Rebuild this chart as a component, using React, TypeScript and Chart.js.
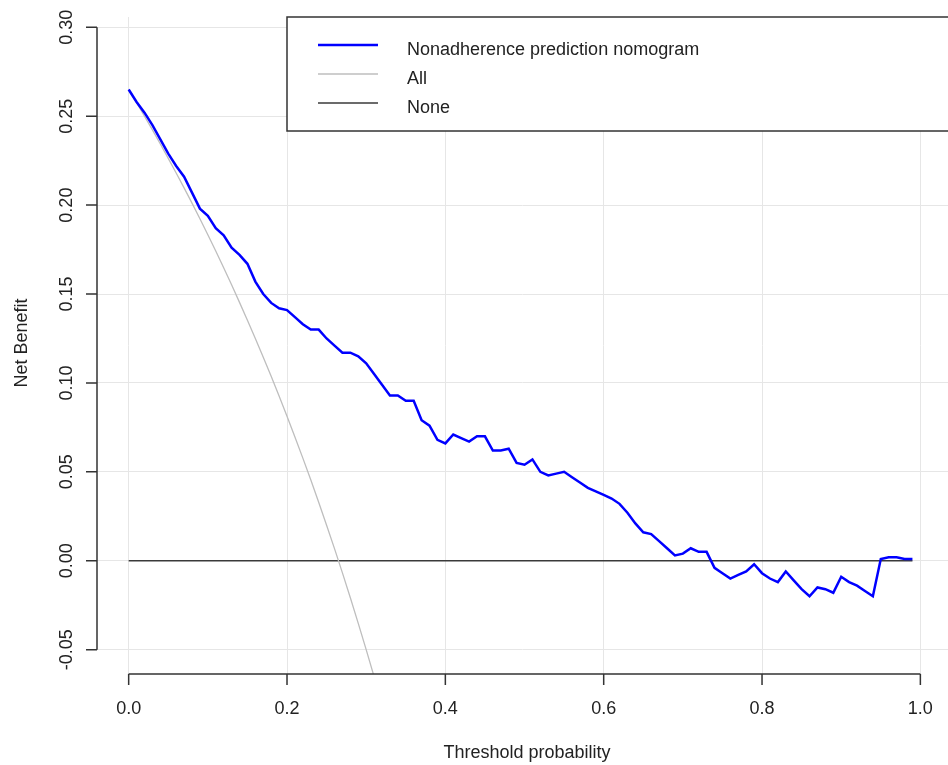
import React, { useEffect, useRef } from "react";
import { Chart, registerables } from "chart.js";

Chart.register(...registerables);

// ---- Data ----
const thresholds = [
  0.0, 0.01, 0.02, 0.03, 0.04, 0.05, 0.06, 0.07, 0.08, 0.09,
  0.1, 0.11, 0.12, 0.13, 0.14, 0.15, 0.16, 0.17, 0.18, 0.19,
  0.2, 0.21, 0.22, 0.23, 0.24, 0.25, 0.26, 0.27, 0.28, 0.29,
  0.3, 0.31, 0.32, 0.33, 0.34, 0.35, 0.36, 0.37, 0.38, 0.39,
  0.4, 0.41, 0.42, 0.43, 0.44, 0.45, 0.46, 0.47, 0.48, 0.49,
  0.5, 0.51, 0.52, 0.53, 0.54, 0.55, 0.56, 0.57, 0.58, 0.59,
  0.6, 0.61, 0.62, 0.63, 0.64, 0.65, 0.66, 0.67, 0.68, 0.69,
  0.7, 0.71, 0.72, 0.73, 0.74, 0.75, 0.76, 0.77, 0.78, 0.79,
  0.8, 0.81, 0.82, 0.83, 0.84, 0.85, 0.86, 0.87, 0.88, 0.89,
  0.9, 0.91, 0.92, 0.93, 0.94, 0.95, 0.96, 0.97, 0.98, 0.99,
];

const nomogramNB = [
  0.265, 0.258, 0.252, 0.245, 0.237, 0.229, 0.222, 0.216, 0.207, 0.198,
  0.194, 0.187, 0.183, 0.176, 0.172, 0.167, 0.157, 0.150, 0.145, 0.142,
  0.141, 0.137, 0.133, 0.130, 0.130, 0.125, 0.121, 0.117, 0.117, 0.115,
  0.111, 0.105, 0.099, 0.093, 0.093, 0.090, 0.090, 0.079, 0.076, 0.068,
  0.066, 0.071, 0.069, 0.067, 0.070, 0.070, 0.062, 0.062, 0.063, 0.055,
  0.054, 0.057, 0.050, 0.048, 0.049, 0.050, 0.047, 0.044, 0.041, 0.039,
  0.037, 0.035, 0.032, 0.027, 0.021, 0.016, 0.015, 0.011, 0.007, 0.003,
  0.004, 0.007, 0.005, 0.005, -0.004, -0.007, -0.010, -0.008, -0.006, -0.002,
  -0.007, -0.010, -0.012, -0.006, -0.011, -0.016, -0.020, -0.015, -0.016, -0.018,
  -0.009, -0.012, -0.014, -0.017, -0.020, 0.001, 0.002, 0.002, 0.001, 0.001,
];

const allThresholds = [
  0.0, 0.01, 0.02, 0.03, 0.04, 0.05, 0.06, 0.07, 0.08, 0.09,
  0.1, 0.11, 0.12, 0.13, 0.14, 0.15, 0.16, 0.17, 0.18, 0.19,
  0.2, 0.21, 0.22, 0.23, 0.24, 0.25, 0.26, 0.27, 0.28, 0.29,
  0.3, 0.31, 0.32,
];
const allNB = [
  0.265, 0.2576, 0.25, 0.2423, 0.2344, 0.2263, 0.2181, 0.2097, 0.2011, 0.1923,
  0.1833, 0.1742, 0.1648, 0.1552, 0.1453, 0.1353, 0.125, 0.1145, 0.1037, 0.0926,
  0.0813, 0.0696, 0.0577, 0.0455, 0.0329, 0.02, 0.0068, -0.0068, -0.0208, -0.0352,
  -0.05, -0.0652, -0.0809,
];

const noneThresholds = [0.0, 0.99];
const noneNB = [0, 0];

const xTicks = [0, 0.2, 0.4, 0.6, 0.8, 1.0];
const xTickLabels = ["0.0", "0.2", "0.4", "0.6", "0.8", "1.0"];
const yTicks = [-0.05, 0, 0.05, 0.1, 0.15, 0.2, 0.25, 0.3];
const yTickLabels = ["-0.05", "0.00", "0.05", "0.10", "0.15", "0.20", "0.25", "0.30"];

const seriesLabels = ["Nonadherence prediction nomogram", "All", "None"];
const seriesColors = ["#0000FF", "#BEBEBE", "#3A3A3A"];
const seriesWidths = [2.5, 1.3, 1.6];

const xTitle = "Threshold probability";
const yTitle = "Net Benefit";

const FONT = '18px "Liberation Sans", Arial, Helvetica, sans-serif';
const INK = "#222222";
const AXIS = "#333333";

const rStylePlugin = {
  id: "rStyle",
  afterDraw(chart: any) {
    const ctx = chart.ctx as CanvasRenderingContext2D;
    const xs = chart.scales.x;
    const ys = chart.scales.y;
    const area = chart.chartArea;
    ctx.save();

    // axes lines + ticks
    ctx.strokeStyle = AXIS;
    ctx.lineWidth = 1.5;
    ctx.beginPath();
    const xa = xs.getPixelForValue(xTicks[0]);
    const xb = xs.getPixelForValue(xTicks[xTicks.length - 1]);
    const yb = area.bottom;
    ctx.moveTo(xa, yb);
    ctx.lineTo(xb, yb);
    xTicks.forEach((v) => {
      const px = xs.getPixelForValue(v);
      ctx.moveTo(px, yb);
      ctx.lineTo(px, yb + 11);
    });
    const yl = area.left;
    const ya = ys.getPixelForValue(yTicks[0]);
    const yz = ys.getPixelForValue(yTicks[yTicks.length - 1]);
    ctx.moveTo(yl, ya);
    ctx.lineTo(yl, yz);
    yTicks.forEach((v) => {
      const py = ys.getPixelForValue(v);
      ctx.moveTo(yl, py);
      ctx.lineTo(yl - 11, py);
    });
    ctx.stroke();

    // tick labels
    ctx.font = FONT;
    ctx.fillStyle = INK;
    ctx.textAlign = "center";
    ctx.textBaseline = "alphabetic";
    xTicks.forEach((v, i) => {
      ctx.fillText(xTickLabels[i], xs.getPixelForValue(v), yb + 40);
    });
    yTicks.forEach((v, i) => {
      ctx.save();
      ctx.translate(yl - 25, ys.getPixelForValue(v));
      ctx.rotate(-Math.PI / 2);
      ctx.fillText(yTickLabels[i], 0, 0);
      ctx.restore();
    });

    // axis titles
    ctx.fillText(xTitle, 527, 758);
    ctx.save();
    ctx.translate(27, 343);
    ctx.rotate(-Math.PI / 2);
    ctx.fillText(yTitle, 0, 0);
    ctx.restore();

    // legend
    const bx = 287, by = 17, bw = 720, bh = 114;
    ctx.fillStyle = "#FFFFFF";
    ctx.fillRect(bx, by, bw, bh);
    ctx.strokeStyle = AXIS;
    ctx.lineWidth = 1.5;
    ctx.strokeRect(bx, by, bw, bh);
    const lineYs = [45, 74, 103];
    seriesLabels.forEach((lab, i) => {
      ctx.strokeStyle = seriesColors[i];
      ctx.lineWidth = seriesWidths[i];
      ctx.beginPath();
      ctx.moveTo(318, lineYs[i]);
      ctx.lineTo(378, lineYs[i]);
      ctx.stroke();
      ctx.fillStyle = INK;
      ctx.textAlign = "left";
      ctx.fillText(lab, 407, lineYs[i] + 10);
    });
    ctx.restore();
  },
};

export default function App() {
  const canvasRef = useRef<HTMLCanvasElement | null>(null);

  useEffect(() => {
    if (!canvasRef.current) return;
    const toPts = (xsArr: number[], ysArr: number[]) =>
      xsArr.map((x, i) => ({ x, y: ysArr[i] }));

    const chart = new Chart(canvasRef.current, {
      type: "line",
      data: {
        datasets: [
          {
            label: seriesLabels[0],
            data: toPts(thresholds, nomogramNB),
            borderColor: seriesColors[0],
            borderWidth: seriesWidths[0],
            pointRadius: 0,
            tension: 0,
            fill: false,
          },
          {
            label: seriesLabels[1],
            data: toPts(allThresholds, allNB),
            borderColor: seriesColors[1],
            borderWidth: seriesWidths[1],
            pointRadius: 0,
            tension: 0,
            fill: false,
          },
          {
            label: seriesLabels[2],
            data: toPts(noneThresholds, noneNB),
            borderColor: seriesColors[2],
            borderWidth: seriesWidths[2],
            pointRadius: 0,
            tension: 0,
            fill: false,
          },
        ],
      },
      options: {
        animation: false,
        responsive: true,
        maintainAspectRatio: false,
        layout: { padding: { left: 97, right: 0, top: 17, bottom: 91 } },
        plugins: {
          legend: { display: false },
          tooltip: { enabled: false },
          title: { display: false },
        },
        scales: {
          x: {
            type: "linear",
            min: -0.04,
            max: 1.0349,
            afterBuildTicks: (scale: any) => {
              scale.ticks = xTicks.map((v) => ({ value: v }));
            },
            ticks: { display: false },
            grid: { color: "#E6E6E6", lineWidth: 1, drawTicks: false },
            border: { display: false },
          },
          y: {
            type: "linear",
            min: -0.0637,
            max: 0.3058,
            afterBuildTicks: (scale: any) => {
              scale.ticks = yTicks.map((v) => ({ value: v }));
            },
            ticks: { display: false },
            grid: { color: "#E6E6E6", lineWidth: 1, drawTicks: false },
            border: { display: false },
          },
        },
      },
      plugins: [rStylePlugin],
    });
    return () => chart.destroy();
  }, []);

  return (
    <div
      style={{
        position: "fixed",
        left: 0,
        top: 0,
        width: 948,
        height: 765,
        background: "#FFFFFF",
      }}
    >
      <canvas ref={canvasRef} />
    </div>
  );
}
